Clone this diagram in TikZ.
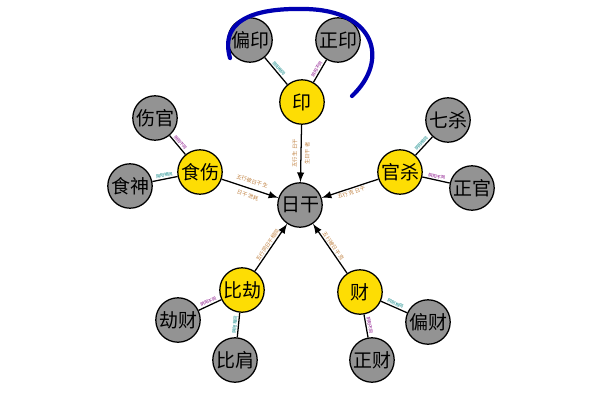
\documentclass[tikz,border=0pt]{standalone}
\usepackage{fontspec}
\setmainfont{Noto Sans CJK SC}
\begin{document}
\begin{tikzpicture}[x=0.01667cm, y=-0.01667cm,
  grey/.style={circle, draw, semithick, fill=gray!85, minimum size=0.74cm, inner sep=0pt, font=\fontsize{9}{10}\selectfont},
  gold/.style={circle, draw, semithick, fill=yellow!80!orange, minimum size=0.74cm, inner sep=0pt, font=\fontsize{9}{10}\selectfont},
  main/.style={-latex, semithick},
  lbl/.style={font=\fontsize{2.5}{3}\selectfont, text=brown, sloped, inner sep=0.5pt},
  sub/.style={font=\fontsize{2}{3}\selectfont, sloped, inner sep=0.5pt}]
	\useasboundingbox (0,0) rectangle (600,400);
	\node[grey] (rigan) at (300,205) {日干};
	\node[gold] (yin) at (302,102) {印};
	\node[grey] (pianyin) at (250,40) {偏印};
	\node[grey] (zhengyin) at (338,40) {正印};
	\node[gold] (shishang) at (200,172) {食伤};
	\node[grey] (shangguan) at (155,118) {伤官};
	\node[grey] (shishen) at (130,186) {食神};
	\node[gold] (guansha) at (400,172) {官杀};
	\node[grey] (qisha) at (448,120) {七杀};
	\node[grey] (zhengguan) at (472,188) {正官};
	\node[gold] (bijie) at (242,290) {比劫};
	\node[grey] (jiecai) at (178,320) {劫财};
	\node[grey] (bijian) at (235,360) {比肩};
	\node[gold] (cai) at (360,292) {财};
	\node[grey] (piancai) at (428,322) {偏财};
	\node[grey] (zhengcai) at (372,360) {正财};

	\draw[main] (yin) -- node[lbl, above=1pt] {五行 生 日干} node[lbl, below=1pt] {生日干 者} (rigan);
	\draw[main] (shishang) -- node[lbl, above=1.5pt] {五行被日干 生} node[lbl, below=1.5pt] {日干 泄耗} (rigan);
	\draw[main] (guansha) -- node[lbl, below] {五行 克 日干} (rigan);
	\draw[main] (bijie) -- node[lbl, above] {五行同日干相同} (rigan);
	\draw[main] (cai) -- node[lbl, above] {五行被日干 克} (rigan);

	\draw[semithick] (yin) -- node[sub, above, text=teal] {阴阳相同} (pianyin);
	\draw[semithick] (yin) -- node[sub, above, text=violet] {阴阳不同} (zhengyin);
	\draw[semithick] (shishang) -- node[sub, above, text=violet] {阴阳不同} (shangguan);
	\draw[semithick] (shishang) -- node[sub, above, text=teal] {阴阳相同} (shishen);
	\draw[semithick] (guansha) -- node[sub, above, text=teal] {阴阳相同} (qisha);
	\draw[semithick] (guansha) -- node[sub, above, text=violet] {阴阳不同} (zhengguan);
	\draw[semithick] (bijie) -- node[sub, above, text=violet] {阴阳不同} (jiecai);
	\draw[semithick] (bijie) -- node[sub, above, text=teal] {阴阳相同} (bijian);
	\draw[semithick] (cai) -- node[sub, above, text=teal] {阴阳相同} (piancai);
	\draw[semithick] (cai) -- node[sub, above, text=violet] {阴阳不同} (zhengcai);

	% hand-drawn mark
	\draw[blue!70!black, line width=2pt, line cap=round] (230,58) .. controls (218,15) and (265,8) .. (305,9) .. controls (375,10) and (390,60) .. (352,96);
\end{tikzpicture}
\end{document}
